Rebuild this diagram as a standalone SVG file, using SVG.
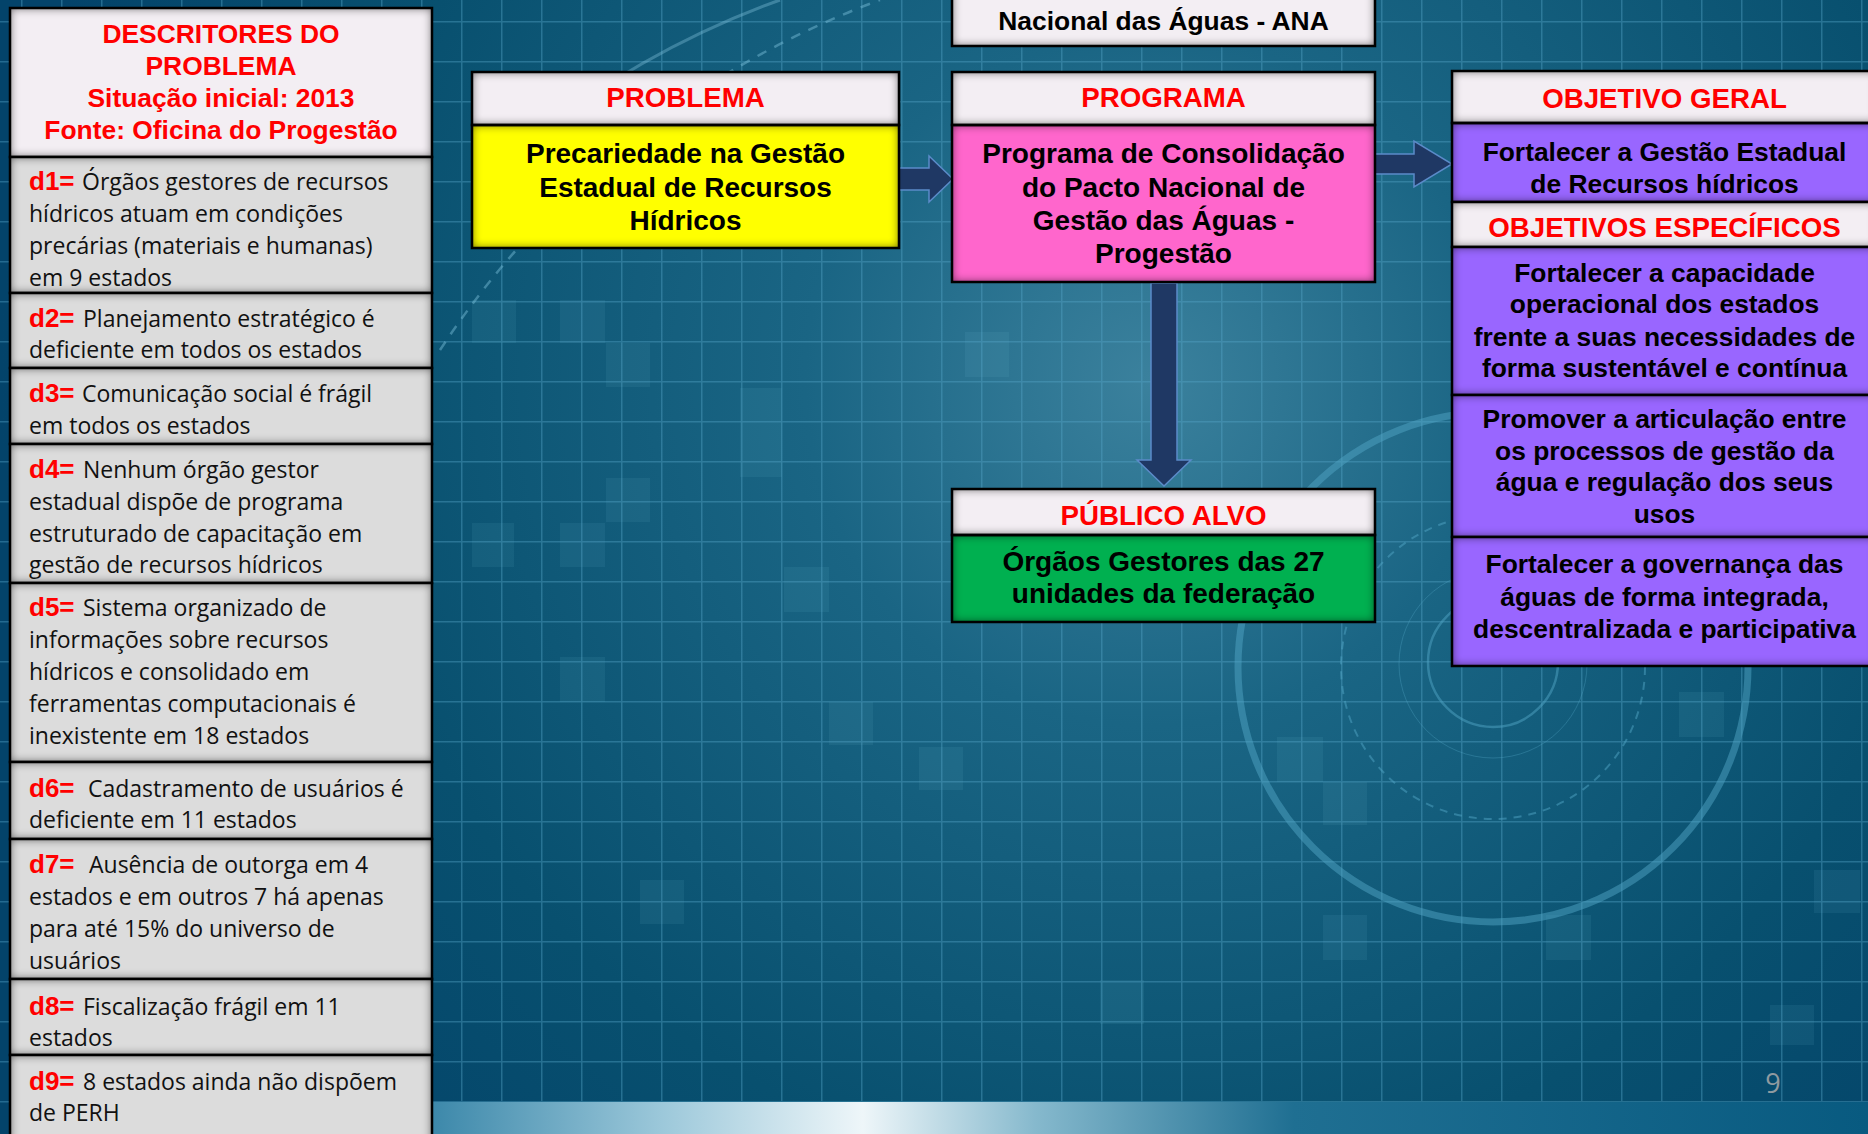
<svg xmlns="http://www.w3.org/2000/svg" width="1868" height="1134" viewBox="0 0 1868 1134">
<defs>
<radialGradient id="bg" cx="1150" cy="380" r="1150" gradientUnits="userSpaceOnUse">
<stop offset="0" stop-color="#3b819d"/>
<stop offset="0.3" stop-color="#1a6584"/>
<stop offset="0.7" stop-color="#08506f"/>
<stop offset="1" stop-color="#03436a"/>
</radialGradient>
<pattern id="grid" x="21" y="21" width="40" height="40" patternUnits="userSpaceOnUse">
<path d="M0 0.75H40M0.75 0V40" stroke="#55a6c8" stroke-opacity="0.4" stroke-width="1.5" fill="none"/>
</pattern>
<linearGradient id="bar" x1="432" y1="0" x2="1868" y2="0" gradientUnits="userSpaceOnUse">
<stop offset="0" stop-color="#3c88aa"/>
<stop offset="0.16" stop-color="#9cc8da"/>
<stop offset="0.3" stop-color="#eef6f9"/>
<stop offset="0.42" stop-color="#86b9cd"/>
<stop offset="0.6" stop-color="#1f6f92"/>
<stop offset="1" stop-color="#085a80"/>
</linearGradient>
<filter id="ins" x="0" y="0" width="1" height="1" color-interpolation-filters="sRGB">
<feGaussianBlur in="SourceAlpha" stdDeviation="5" result="b"/>
<feFlood flood-color="#000" flood-opacity="0.6" result="f"/>
<feComposite in="f" in2="b" operator="out" result="s"/>
<feComposite in="s" in2="SourceAlpha" operator="in" result="s2"/>
<feMerge><feMergeNode in="SourceGraphic"/><feMergeNode in="s2"/></feMerge>
</filter>
<style>
.hd{fill:#f3eef3;filter:url(#ins)}
.gr{fill:#dcdcdc;filter:url(#ins)}
.ye{fill:#ffff00;filter:url(#ins)}
.pk{fill:#ff66cc;filter:url(#ins)}
.gn{fill:#00b050;filter:url(#ins)}
.pu{fill:#9966ff;filter:url(#ins)}
.ln{fill:none;stroke:#000;stroke-width:2.5}
.ht{font-family:"Liberation Sans",Arial,sans-serif;font-weight:bold;font-size:27.7px;fill:#ff0000;text-anchor:middle}
.lh{font-size:26.4px}
.bt{font-family:"Liberation Sans",Arial,sans-serif;font-weight:bold;font-size:28px;fill:#000;text-anchor:middle}
.pt{font-size:26.4px}
.dt{font-family:"Open Sans",sans-serif;font-size:23px;fill:#111}
.dl{font-family:"Liberation Sans",Arial,sans-serif;font-weight:bold;font-size:26px;fill:#ff0000}
.arr{fill:#1f3864;stroke:#5b8bc9;stroke-width:1.5}
.sq{fill:#7fc4e0;fill-opacity:0.09}
.rg{fill:none;stroke:#4fa3c4}
</style>
</defs>

<g id="background">
<rect width="1868" height="1134" fill="url(#bg)"/>
<rect x="472" y="300" width="44" height="43" class="sq"/>
<rect x="560" y="300" width="45" height="43" class="sq"/>
<rect x="606" y="343" width="44" height="44" class="sq"/>
<rect x="740" y="388" width="42" height="89" class="sq"/>
<rect x="606" y="478" width="44" height="44" class="sq"/>
<rect x="560" y="523" width="45" height="44" class="sq"/>
<rect x="472" y="523" width="42" height="44" class="sq"/>
<rect x="784" y="567" width="45" height="45" class="sq"/>
<rect x="560" y="657" width="45" height="45" class="sq"/>
<rect x="829" y="702" width="44" height="43" class="sq"/>
<rect x="919" y="747" width="44" height="43" class="sq"/>
<rect x="965" y="332" width="44" height="45" class="sq"/>
<rect x="1770" y="1005" width="44" height="40" class="sq"/>
<rect x="1323" y="782" width="44" height="43" class="sq"/>
<rect x="1546" y="915" width="45" height="45" class="sq"/>
<rect x="1323" y="915" width="44" height="45" class="sq"/>
<rect x="1679" y="692" width="45" height="45" class="sq"/>
<rect x="1814" y="870" width="46" height="43" class="sq"/>
<rect x="1277" y="737" width="46" height="45" class="sq"/>
<rect x="1100" y="980" width="44" height="44" class="sq"/>
<rect x="640" y="880" width="44" height="44" class="sq"/>
<rect width="1868" height="1134" fill="url(#grid)"/>
<circle cx="1493" cy="667" r="255" class="rg" stroke-opacity="0.5" stroke-width="7"/>
<circle cx="1493" cy="667" r="152" class="rg" stroke-opacity="0.5" stroke-width="2" stroke-dasharray="8 7"/>
<circle cx="1493" cy="664" r="94" class="rg" stroke-opacity="0.35" stroke-width="1"/>
<circle cx="1493" cy="662" r="65" class="rg" stroke-opacity="0.5" stroke-width="2.5"/>
<path d="M440 350 A900 900 0 0 1 880 0" fill="none" stroke="#7cc0dc" stroke-opacity="0.45" stroke-width="2.5" stroke-dasharray="10 9"/>
<path d="M530 140 A880 880 0 0 1 780 0" fill="none" stroke="#8ccbe4" stroke-opacity="0.35" stroke-width="3"/>
<rect x="432" y="1102" width="1436" height="32" fill="url(#bar)"/>
<text x="1773" y="1093" font-family="Open Sans, sans-serif" font-size="27" fill="#8f9aa0" text-anchor="middle">9</text>
</g>

<g id="connectors">
<path class="arr" d="M899 168H929V156L953 179L929 202V190H899Z"/>
<path class="arr" d="M1375 154H1414V141L1452 164L1414 187V174H1375Z"/>
<path class="arr" d="M1151 283V460H1137L1164 486L1191 460H1177V283Z"/>
</g>

<g id="desc-header">
<rect x="10" y="8" width="422" height="149" class="hd"/>
<rect x="10" y="8" width="422" height="149" class="ln"/>
<text class="ht lh"><tspan x="221" y="43">DESCRITORES DO</tspan><tspan x="221" y="75">PROBLEMA</tspan><tspan x="221" y="107">Situação inicial: 2013</tspan><tspan x="221" y="139">Fonte: Oficina do Progestão</tspan></text>
</g>
<g id="d1">
<rect x="10" y="157" width="422" height="136" class="gr"/>
<rect x="10" y="157" width="422" height="136" class="ln"/>
<text class="dt"><tspan class="dl" x="29" y="190">d1=</tspan><tspan x="82" y="190">Órgãos gestores de recursos</tspan><tspan x="29" y="222">hídricos atuam em condições</tspan><tspan x="29" y="254">precárias (materiais e humanas)</tspan><tspan x="29" y="286">em 9 estados</tspan></text>
</g>
<g id="d2">
<rect x="10" y="293" width="422" height="75" class="gr"/>
<rect x="10" y="293" width="422" height="75" class="ln"/>
<text class="dt"><tspan class="dl" x="29" y="327">d2=</tspan><tspan x="83" y="327">Planejamento estratégico é</tspan><tspan x="29" y="358">deficiente em todos os estados</tspan></text>
</g>
<g id="d3">
<rect x="10" y="368" width="422" height="76" class="gr"/>
<rect x="10" y="368" width="422" height="76" class="ln"/>
<text class="dt"><tspan class="dl" x="29" y="402">d3=</tspan><tspan x="82" y="402">Comunicação social é frágil</tspan><tspan x="29" y="434">em todos os estados</tspan></text>
</g>
<g id="d4">
<rect x="10" y="444" width="422" height="139" class="gr"/>
<rect x="10" y="444" width="422" height="139" class="ln"/>
<text class="dt"><tspan class="dl" x="29" y="478">d4=</tspan><tspan x="83" y="478">Nenhum órgão gestor</tspan><tspan x="29" y="510">estadual dispõe de programa</tspan><tspan x="29" y="542">estruturado de capacitação em</tspan><tspan x="29" y="573">gestão de recursos hídricos</tspan></text>
</g>
<g id="d5">
<rect x="10" y="583" width="422" height="179" class="gr"/>
<rect x="10" y="583" width="422" height="179" class="ln"/>
<text class="dt"><tspan class="dl" x="29" y="616">d5=</tspan><tspan x="83" y="616">Sistema organizado de</tspan><tspan x="29" y="648">informações sobre recursos</tspan><tspan x="29" y="680">hídricos e consolidado em</tspan><tspan x="29" y="712">ferramentas computacionais é</tspan><tspan x="29" y="744">inexistente em 18 estados</tspan></text>
</g>
<g id="d6">
<rect x="10" y="762" width="422" height="77" class="gr"/>
<rect x="10" y="762" width="422" height="77" class="ln"/>
<text class="dt"><tspan class="dl" x="29" y="797">d6=</tspan><tspan x="88" y="797">Cadastramento de usuários é</tspan><tspan x="29" y="828">deficiente em 11 estados</tspan></text>
</g>
<g id="d7">
<rect x="10" y="839" width="422" height="140" class="gr"/>
<rect x="10" y="839" width="422" height="140" class="ln"/>
<text class="dt"><tspan class="dl" x="29" y="873">d7=</tspan><tspan x="89" y="873">Ausência de outorga em 4</tspan><tspan x="29" y="905">estados e em outros 7 há apenas</tspan><tspan x="29" y="937">para até 15% do universo de</tspan><tspan x="29" y="969">usuários</tspan></text>
</g>
<g id="d8">
<rect x="10" y="979" width="422" height="76" class="gr"/>
<rect x="10" y="979" width="422" height="76" class="ln"/>
<text class="dt"><tspan class="dl" x="29" y="1015">d8=</tspan><tspan x="83" y="1015">Fiscalização frágil em 11</tspan><tspan x="29" y="1046">estados</tspan></text>
</g>
<g id="d9">
<rect x="10" y="1055" width="422" height="90" class="gr"/>
<rect x="10" y="1055" width="422" height="90" class="ln"/>
<text class="dt"><tspan class="dl" x="29" y="1090">d9=</tspan><tspan x="83" y="1090">8 estados ainda não dispõem</tspan><tspan x="29" y="1121">de PERH</tspan></text>
</g>

<g id="ana">
<rect x="952" y="-40" width="423" height="86" class="hd"/>
<rect x="952" y="-40" width="423" height="86" class="ln"/>
<text class="bt pt" x="1163.5" y="30">Nacional das Águas - ANA</text>
</g>

<g id="problema">
<rect x="472" y="72" width="427" height="53" class="hd"/>
<rect x="472" y="125" width="427" height="123" class="ye"/>
<rect x="472" y="72" width="427" height="53" class="ln"/>
<rect x="472" y="125" width="427" height="123" class="ln"/>
<text class="ht" x="685.5" y="107">PROBLEMA</text>
<text class="bt"><tspan x="685.5" y="163">Precariedade na Gestão</tspan><tspan x="685.5" y="197">Estadual de Recursos</tspan><tspan x="685.5" y="230">Hídricos</tspan></text>
</g>

<g id="programa">
<rect x="952" y="72" width="423" height="53" class="hd"/>
<rect x="952" y="125" width="423" height="157" class="pk"/>
<rect x="952" y="72" width="423" height="53" class="ln"/>
<rect x="952" y="125" width="423" height="157" class="ln"/>
<text class="ht" x="1163.5" y="107">PROGRAMA</text>
<text class="bt"><tspan x="1163.5" y="163">Programa de Consolidação</tspan><tspan x="1163.5" y="197">do Pacto Nacional de</tspan><tspan x="1163.5" y="230">Gestão das Águas -</tspan><tspan x="1163.5" y="263">Progestão</tspan></text>
</g>

<g id="publico-alvo">
<rect x="952" y="489" width="423" height="46" class="hd"/>
<rect x="952" y="535" width="423" height="87" class="gn"/>
<rect x="952" y="489" width="423" height="46" class="ln"/>
<rect x="952" y="535" width="423" height="87" class="ln"/>
<text class="ht" x="1163.5" y="525">PÚBLICO ALVO</text>
<text class="bt"><tspan x="1163.5" y="571">Órgãos Gestores das 27</tspan><tspan x="1163.5" y="603">unidades da federação</tspan></text>
</g>

<g id="objetivo-geral">
<rect x="1452" y="71" width="425" height="52" class="hd"/>
<rect x="1452" y="123" width="425" height="79" class="pu"/>
<rect x="1452" y="71" width="425" height="52" class="ln"/>
<rect x="1452" y="123" width="425" height="79" class="ln"/>
<text class="ht" x="1664.5" y="108">OBJETIVO GERAL</text>
<text class="bt pt"><tspan x="1664.5" y="161">Fortalecer a Gestão Estadual</tspan><tspan x="1664.5" y="193">de Recursos hídricos</tspan></text>
</g>

<g id="objetivos-especificos">
<rect x="1452" y="202" width="425" height="45" class="hd"/>
<rect x="1452" y="202" width="425" height="45" class="ln"/>
<text class="ht" x="1664.5" y="237">OBJETIVOS ESPECÍFICOS</text>
</g>
<g id="oe1">
<rect x="1452" y="247" width="425" height="148" class="pu"/>
<rect x="1452" y="247" width="425" height="148" class="ln"/>
<text class="bt pt"><tspan x="1664.5" y="282">Fortalecer a capacidade</tspan><tspan x="1664.5" y="313">operacional dos estados</tspan><tspan x="1664.5" y="346">frente a suas necessidades de</tspan><tspan x="1664.5" y="377">forma sustentável e contínua</tspan></text>
</g>
<g id="oe2">
<rect x="1452" y="395" width="425" height="142" class="pu"/>
<rect x="1452" y="395" width="425" height="142" class="ln"/>
<text class="bt pt"><tspan x="1664.5" y="428">Promover a articulação entre</tspan><tspan x="1664.5" y="460">os processos de gestão da</tspan><tspan x="1664.5" y="491">água e regulação dos seus</tspan><tspan x="1664.5" y="523">usos</tspan></text>
</g>
<g id="oe3">
<rect x="1452" y="537" width="425" height="129" class="pu"/>
<rect x="1452" y="537" width="425" height="129" class="ln"/>
<text class="bt pt"><tspan x="1664.5" y="573">Fortalecer a governança das</tspan><tspan x="1664.5" y="606">águas de forma integrada,</tspan><tspan x="1664.5" y="638">descentralizada e participativa</tspan></text>
</g>
</svg>
